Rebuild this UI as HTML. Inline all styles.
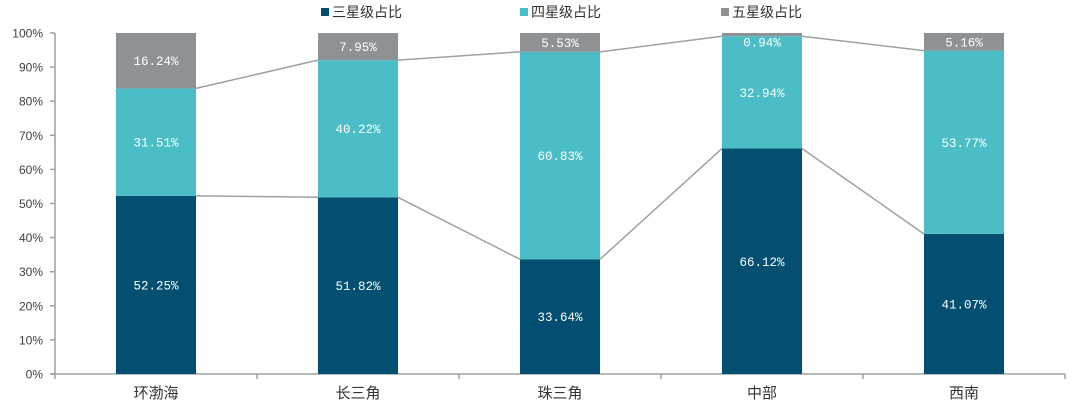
<!DOCTYPE html>
<html><head><meta charset="utf-8"><style>
body{margin:0;background:#fff;}
svg{display:block;font-family:"Liberation Sans","Noto Sans CJK SC",sans-serif;}
</style></head><body>
<svg id="c" width="1080" height="412"></svg>
<script>
const categories=["环渤海","长三角","珠三角","中部","西南"];
const seriesNames=["三星级占比","四星级占比","五星级占比"];
const three=[52.25,51.82,33.64,66.12,41.07];
const four=[31.51,40.22,60.83,32.94,53.77];
const five=[16.24,7.95,5.53,0.94,5.16];
const yTicks=[0,10,20,30,40,50,60,70,80,90,100];
const colors=["#024f72","#4bbdc6","#8e9294"];
const svg=document.getElementById('c');
const NS="http://www.w3.org/2000/svg";
const x0=55,x1=1065,y0=374,y1=33,bw=80;
const step=(x1-x0)/categories.length;
const X=i=>x0+step*(i+0.5);
const Y=v=>y0-(y0-y1)*v/100;
function mk(t,a,p){const e=document.createElementNS(NS,t);for(const k in a)e.setAttribute(k,a[k]);(p||svg).appendChild(e);return e;}
// axes
let ax=mk('line',{x1:x0,y1:y1,x2:x0,y2:y0,stroke:'#a0a0a0','stroke-width':1.5});

let bx=mk('line',{x1:x0-5,y1:y0,x2:x1,y2:y0,stroke:'#a0a0a0','stroke-width':1.5});

yTicks.forEach(t=>{
 const l=mk('line',{x1:x0-5,x2:x0,y1:Y(t),y2:Y(t),stroke:'#a0a0a0','stroke-width':1.5});
 
 const tx=mk('text',{x:x0-12,y:Y(t)+4.5,'text-anchor':'end','font-size':12,fill:'#404040'});
 tx.textContent=t+'%';
 
});
for(let i=0;i<=categories.length;i++){
 const l=mk('line',{x1:x0+step*i,x2:x0+step*i,y1:y0,y2:y0+5,stroke:'#a0a0a0','stroke-width':1.5});
 
}
const data=[three,four,five];
// series lines
[0,1].forEach(s=>{
 for(let i=0;i<categories.length-1;i++){
  let a=0,b=0;for(let k=0;k<=s;k++){a+=data[k][i];b+=data[k][i+1];}
  const l=mk('line',{x1:X(i)+bw/2,y1:Y(a),x2:X(i+1)-bw/2,y2:Y(b),stroke:'#a0a0a0','stroke-width':1.5});
  
 }
});
categories.forEach((c,i)=>{
 let base=0;
 data.forEach((d,s)=>{
  const v=d[i];
  const r=mk('rect',{x:X(i)-bw/2,y:Y(base+v),width:bw,height:Y(base)-Y(base+v),fill:colors[s]});
  
  const ly=s===2?Math.max(Y(base+v/2),Y(100)+9):Y(base+v/2);
  const t=mk('text',{x:X(i),y:ly+4.5,'text-anchor':'middle','font-size':12.5,fill:'#fff','font-family':'Liberation Mono, monospace'});
  t.textContent=v.toFixed(2)+'%';
  
  base+=v;
 });
 const t=mk('text',{x:X(i),y:398,'text-anchor':'middle','font-size':15,fill:'#333'});
 t.textContent=c;
 
});
// legend
const lx=[321,520,721];
seriesNames.forEach((n,s)=>{
 const g=mk('g',{});
 
 mk('rect',{x:lx[s],y:8,width:8,height:8,fill:colors[s]},g);
 const t=mk('text',{x:lx[s]+11,y:17,'font-size':14,fill:'#333'},g);t.textContent=n;
});
</script>
</body></html>
